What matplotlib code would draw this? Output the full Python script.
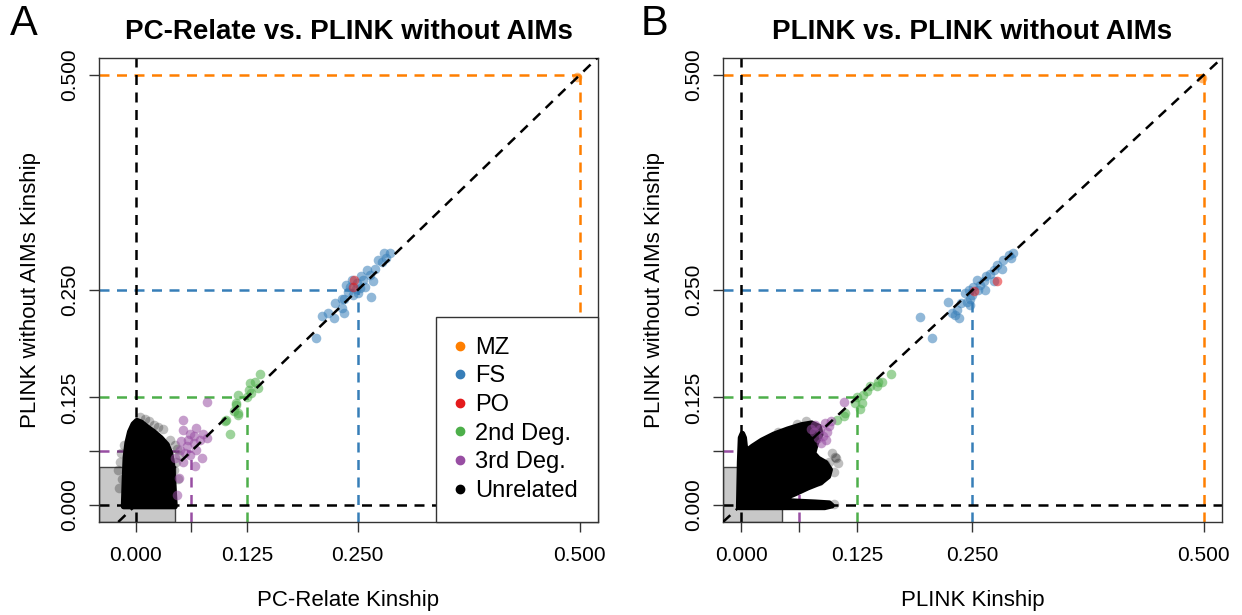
import matplotlib.pyplot as plt
from matplotlib.patches import Polygon, Rectangle

plt.rcParams['font.family'] = ['Liberation Sans', 'DejaVu Sans']

# relationship thresholds and colours (MZ, FS/PO, 2nd, 3rd)
thresholds = [0.5, 0.25, 0.125, 0.0625]
threshold_colors = ['#FF7F00', '#377EB8', '#4DAF4A', '#984EA3']
unrel_cut = 0.0442

labels = ['MZ', 'FS', 'PO', '2nd Deg.', '3rd Deg.', 'Unrelated']
colors = ['#FF7F00', '#377EB8', '#E41A1C', '#4DAF4A', '#984EA3', '#000000']

# ---- panel A: PC-Relate vs PLINK without AIMs ----
a_mz_x = [0.497]
a_mz_y = [0.498]
a_fs_x = [0.203, 0.210, 0.216, 0.223, 0.224, 0.232, 0.234, 0.235, 0.239, 0.241,
          0.245, 0.249, 0.252, 0.250, 0.256, 0.258, 0.264, 0.267, 0.265, 0.260,
          0.269, 0.273, 0.277, 0.279, 0.286, 0.282, 0.237, 0.243, 0.254, 0.248, 0.232]
a_fs_y = [0.194, 0.220, 0.223, 0.218, 0.235, 0.229, 0.223, 0.240, 0.248, 0.254,
          0.244, 0.258, 0.252, 0.246, 0.262, 0.254, 0.267, 0.260, 0.242, 0.273,
          0.275, 0.285, 0.283, 0.293, 0.293, 0.287, 0.256, 0.262, 0.266, 0.251, 0.240]
a_po_x = [0.246, 0.245]
a_po_y = [0.262, 0.254]
a_2nd_x = [0.140, 0.134, 0.128, 0.138, 0.130, 0.125, 0.115, 0.113, 0.110, 0.115,
           0.100, 0.127, 0.113, 0.106, 0.102, 0.115]
a_2nd_y = [0.152, 0.143, 0.142, 0.136, 0.130, 0.126, 0.128, 0.118, 0.109, 0.107,
           0.097, 0.134, 0.116, 0.083, 0.099, 0.105]
a_3rd_x = [0.080, 0.053, 0.061, 0.068, 0.076, 0.072, 0.080, 0.065, 0.057, 0.050,
           0.055, 0.061, 0.068, 0.074, 0.066, 0.048, 0.046, 0.051, 0.044, 0.059,
           0.065, 0.053, 0.053]
a_3rd_y = [0.120, 0.087, 0.083, 0.089, 0.083, 0.076, 0.078, 0.072, 0.068, 0.064,
           0.060, 0.058, 0.064, 0.054, 0.045, 0.031, 0.012, 0.074, 0.054, 0.076,
           0.080, 0.050, 0.099]
# dense unrelated cloud (outline) and loose points at its edge
a_blob_x = [-0.014, -0.013, -0.012, -0.010, -0.007, -0.003, 0.001, 0.006, 0.012,
            0.020, 0.028, 0.035, 0.039, 0.041, 0.042, 0.043, 0.044]
a_blob_y = [-0.002, 0.030, 0.055, 0.072, 0.085, 0.094, 0.098, 0.096, 0.091,
            0.085, 0.078, 0.070, 0.060, 0.048, 0.032, 0.015, -0.002]
a_unrel_x = [-0.020, -0.018, -0.016, -0.019, 0.005, 0.015, 0.020, 0.046, 0.044, 0.048,
             0.043, -0.013, 0.030, 0.047, -0.017, 0.010, 0.038, 0.045, 0.025]
a_unrel_y = [0.040, 0.050, 0.030, 0.020, 0.102, 0.098, 0.093, 0.065, 0.070, 0.058,
             0.040, 0.070, 0.088, 0.030, 0.060, 0.100, 0.076, 0.050, 0.090]

# ---- panel B: PLINK vs PLINK without AIMs ----
b_mz_x = [0.498]
b_mz_y = [0.497]
b_fs_x = [0.193, 0.206, 0.224, 0.228, 0.231, 0.235, 0.233, 0.238, 0.244, 0.247,
          0.242, 0.246, 0.251, 0.255, 0.258, 0.262, 0.264, 0.265, 0.269, 0.273,
          0.276, 0.282, 0.283, 0.289, 0.294, 0.292, 0.249, 0.256, 0.273, 0.247]
b_fs_y = [0.219, 0.194, 0.236, 0.223, 0.221, 0.217, 0.227, 0.235, 0.236, 0.233,
          0.246, 0.250, 0.254, 0.262, 0.256, 0.260, 0.250, 0.266, 0.269, 0.273,
          0.279, 0.275, 0.285, 0.291, 0.293, 0.287, 0.244, 0.250, 0.260, 0.240]
b_po_x = [0.277, 0.252]
b_po_y = [0.261, 0.249]
b_2nd_x = [0.162, 0.152, 0.147, 0.148, 0.139, 0.136, 0.132, 0.125, 0.130, 0.123,
           0.128, 0.112, 0.111, 0.103]
b_2nd_y = [0.152, 0.143, 0.138, 0.143, 0.138, 0.132, 0.128, 0.126, 0.118, 0.118,
           0.111, 0.107, 0.103, 0.099]
b_3rd_x = [0.111, 0.080, 0.085, 0.090, 0.093, 0.088, 0.078, 0.095, 0.083, 0.075,
           0.097, 0.091, 0.086]
b_3rd_y = [0.120, 0.093, 0.088, 0.095, 0.085, 0.080, 0.085, 0.092, 0.078, 0.088,
           0.098, 0.076, 0.072]
b_blob_x = [-0.003, -0.002, -0.001, 0.001, 0.003, 0.004, 0.006, 0.012, 0.022, 0.035,
            0.050, 0.065, 0.076, 0.084, 0.086, 0.081, 0.078, 0.083, 0.091, 0.096,
            0.094, 0.086, 0.072, 0.058, 0.047, 0.044, 0.060, 0.080, 0.095, 0.098,
            0.090, 0.060]
b_blob_y = [-0.003, 0.050, 0.078, 0.083, 0.078, 0.068, 0.063, 0.068, 0.075, 0.082,
            0.088, 0.093, 0.095, 0.091, 0.082, 0.072, 0.060, 0.054, 0.049, 0.041,
            0.033, 0.026, 0.020, 0.013, 0.008, 0.005, 0.004, 0.003, 0.002, -0.001,
            -0.003, -0.003]
b_unrel_x = [0.098, 0.105, 0.095, 0.102, 0.101, 0.090, 0.060, 0.040, 0.100, 0.070,
             0.100, 0.084]
b_unrel_y = [0.060, 0.049, 0.050, 0.054, 0.056, 0.048, 0.094, 0.085, 0.001, 0.097,
             0.038, 0.028]

ticks = [0, 0.0625, 0.125, 0.25, 0.5]
tick_labels = ['0.000', '', '0.125', '0.250', '0.500']


def draw_panel(ax, xlim, blob_x, blob_y, unrel, groups, title, xlabel, letter, lx):
    ylim = (-0.02, 0.52)
    ax.set_xlim(xlim)
    ax.set_ylim(ylim)

    ax.add_patch(Rectangle((xlim[0], ylim[0]), unrel_cut - xlim[0], unrel_cut - ylim[0],
                           facecolor='#C8C8C8', edgecolor='#444444', lw=1, zorder=0))

    for v, c in zip(thresholds, threshold_colors):
        ax.plot([xlim[0], v], [v, v], color=c, ls=(0, (4, 3)), lw=1.8, zorder=1)
        ax.plot([v, v], [ylim[0], v], color=c, ls=(0, (4, 3)), lw=1.8, zorder=1)
    ax.axhline(0, color='black', ls=(0, (4, 3)), lw=1.8, zorder=1)
    ax.axvline(0, color='black', ls=(0, (4, 3)), lw=1.8, zorder=1)
    ax.axline((0, 0), slope=1, color='black', ls=(0, (4, 3)), lw=1.8, zorder=4)

    ax.scatter(unrel[0], unrel[1], s=48, color='black', alpha=0.25, lw=0, zorder=2)
    ax.add_patch(Polygon(list(zip(blob_x, blob_y)), closed=True, facecolor='black',
                         edgecolor='black', lw=4, joinstyle='round', zorder=2))

    for (gx, gy), c in zip(groups, colors[:5]):
        ax.scatter(gx, gy, s=48, color=c, alpha=0.55, lw=0, zorder=3)

    ax.set_xticks(ticks)
    ax.set_xticklabels(tick_labels)
    ax.set_yticks(ticks)
    ax.set_yticklabels(tick_labels, rotation=90, va='center')
    ax.tick_params(direction='out', length=7, width=1, labelsize=15, color='#333333')
    ax.tick_params(axis='x', pad=10)
    ax.tick_params(axis='y', pad=7)
    for s in ax.spines.values():
        s.set_linewidth(1)
        s.set_color('#333333')

    ax.set_title(title, fontsize=20, fontweight='bold', pad=14)
    ax.set_xlabel(xlabel, fontsize=16, labelpad=18)
    ax.set_ylabel('PLINK without AIMs Kinship', fontsize=16, labelpad=14)
    ax.text(lx, 1.073, letter, transform=ax.transAxes, fontsize=30,
            ha='left', va='center')


fig = plt.figure(figsize=(12.42, 6.15), dpi=100)
ax_a = fig.add_axes([0.0797, 0.1512, 0.4018, 0.7545])
ax_b = fig.add_axes([0.5821, 0.1512, 0.4018, 0.7545])

draw_panel(ax_a, (-0.0417, 0.5208), a_blob_x, a_blob_y, (a_unrel_x, a_unrel_y),
           [(a_mz_x, a_mz_y), (a_fs_x, a_fs_y), (a_po_x, a_po_y),
            (a_2nd_x, a_2nd_y), (a_3rd_x, a_3rd_y)],
           'PC-Relate vs. PLINK without AIMs', 'PC-Relate Kinship', 'A', -0.178)
draw_panel(ax_b, (-0.02, 0.52), b_blob_x, b_blob_y, (b_unrel_x, b_unrel_y),
           [(b_mz_x, b_mz_y), (b_fs_x, b_fs_y), (b_po_x, b_po_y),
            (b_2nd_x, b_2nd_y), (b_3rd_x, b_3rd_y)],
           'PLINK vs. PLINK without AIMs', 'PLINK Kinship', 'B', -0.166)

handles = [plt.Line2D([], [], marker='o', ls='none', color=c, markersize=6) for c in colors]
leg = ax_a.legend(handles, labels, loc='lower right', borderaxespad=0, fontsize=17,
                  frameon=True, fancybox=False, edgecolor='#333333', framealpha=1,
                  handletextpad=0.5, labelspacing=0.28, borderpad=0.85, handlelength=0.3)
leg.get_frame().set_linewidth(1)
leg.set_zorder(10)

fig.savefig('out.png', dpi=100)
